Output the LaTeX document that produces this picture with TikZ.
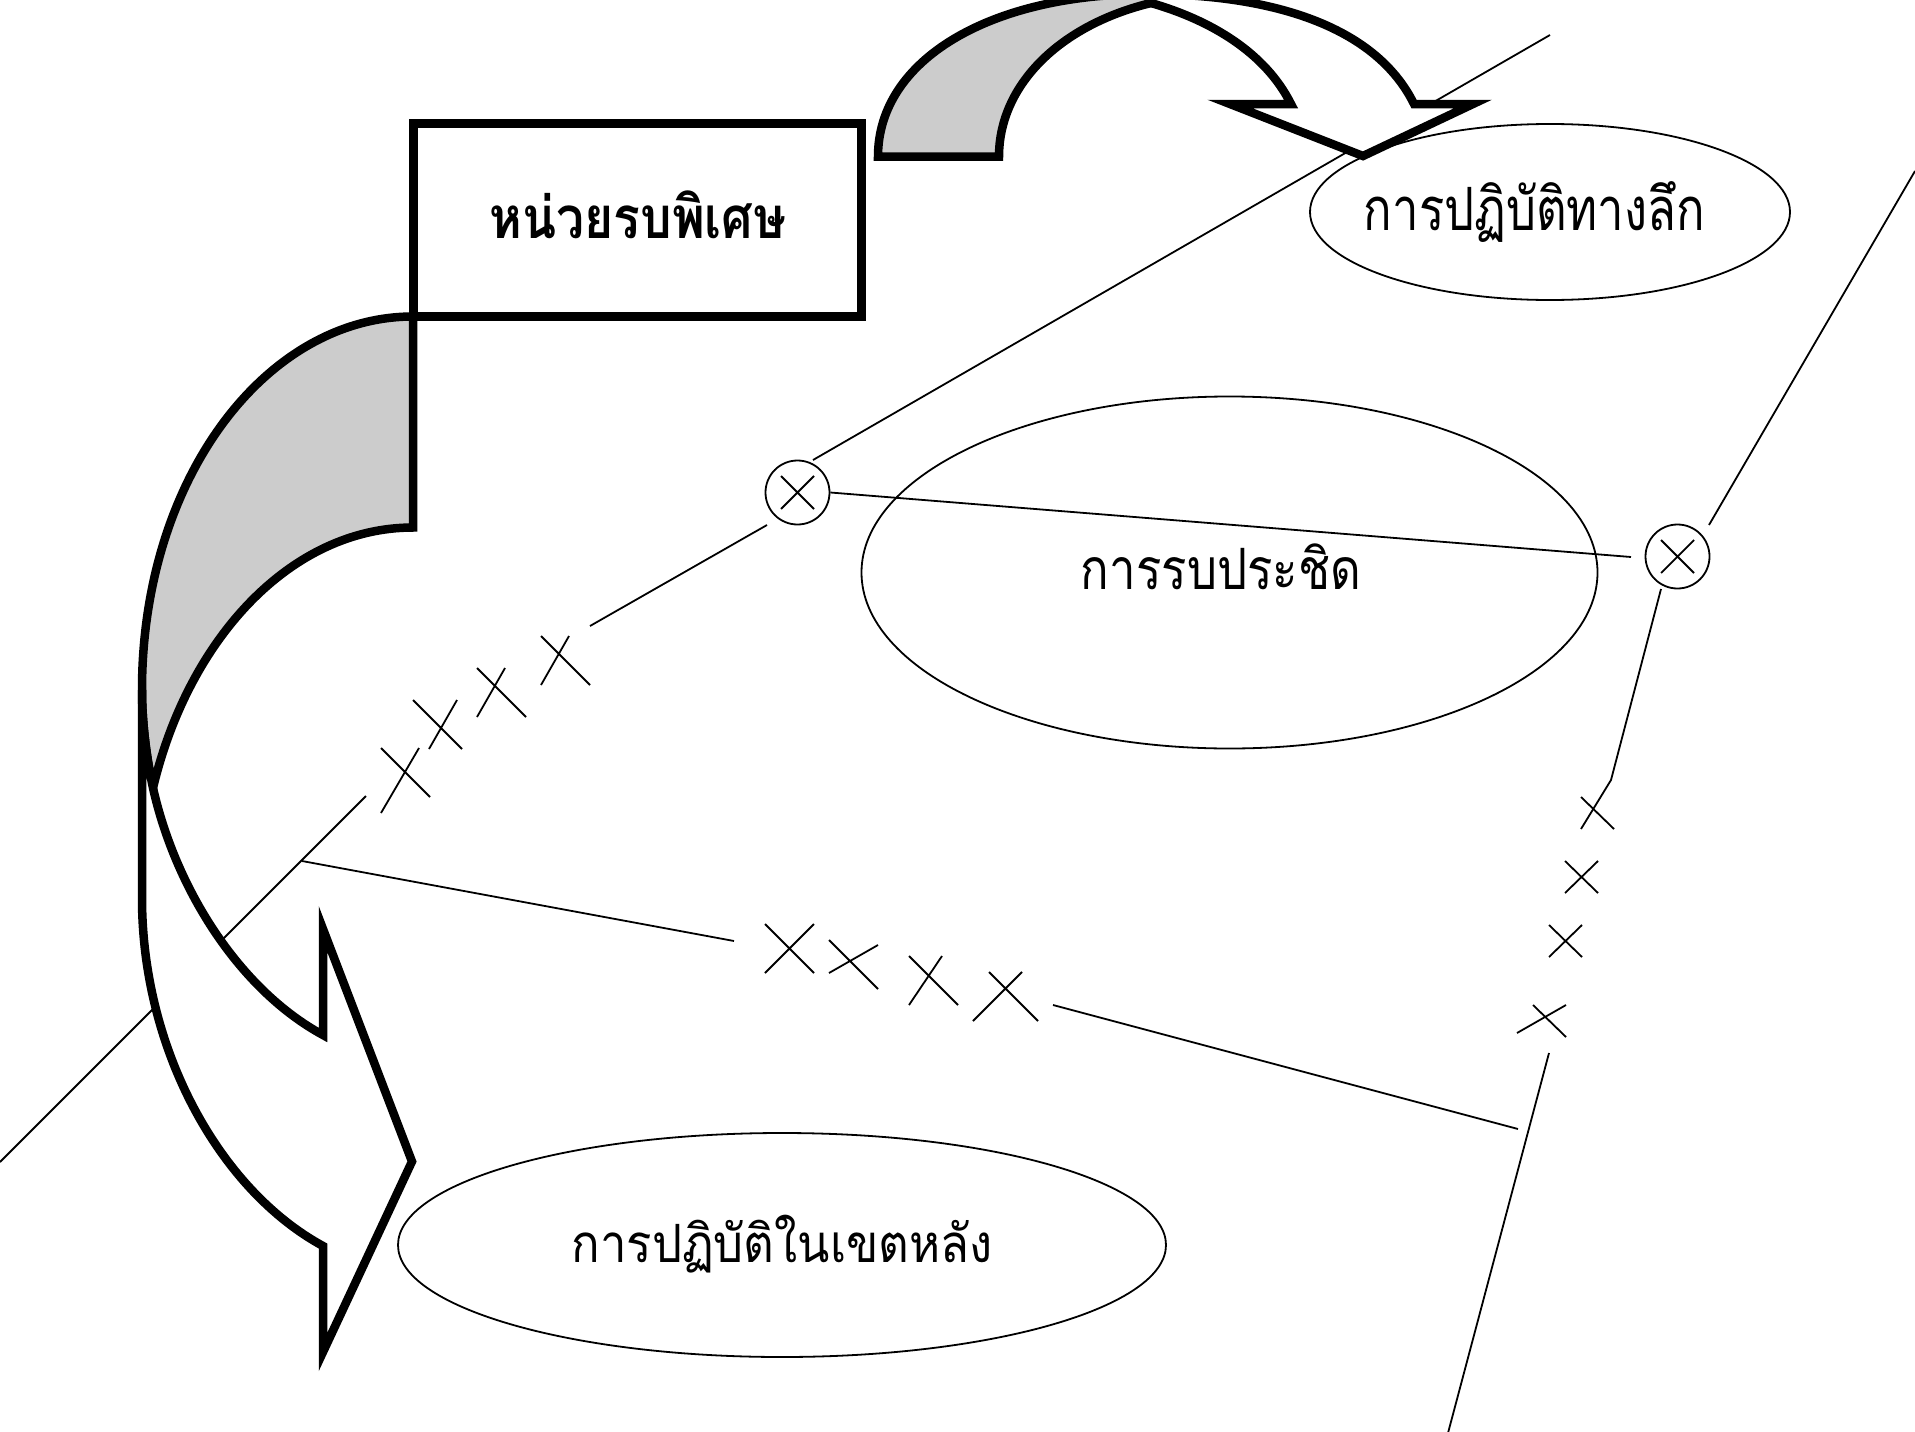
\documentclass[tikz,border=0pt]{standalone}
\usepackage{fontspec}
\usepackage{graphicx}
\setmainfont{Loma}[Script=Thai]
\usetikzlibrary{shapes.geometric}
\tikzset{
  thin line/.style={line width=1.8pt,draw=black},
  bubble/.style={ellipse,draw=black,line width=1.8pt,inner sep=0pt},
  junction/.style={circle,draw=black,line width=1.8pt,inner sep=0pt,minimum size=64pt},
  thick line/.style={line width=8.5pt,draw=black,miter limit=20},
  label text/.style={inner sep=0pt,text=black}
}
\newcommand{\fit}[3]{\resizebox*{#1pt}{#2pt}{#3}}
\begin{document}
\begin{tikzpicture}[x=1pt,y=-1pt]
\useasboundingbox (0,0) rectangle (1915,1432);
\fill[white] (0,0) rectangle (1915,1432);

% ellipses
\node[bubble,minimum width=480pt,minimum height=176pt] (deep) at (1550,212) {};
\node[bubble,minimum width=736pt,minimum height=352pt] (close) at (1229.5,572.5) {};
\node[bubble,minimum width=768pt,minimum height=224pt] (rear) at (782,1245) {};

% junctions
\node[junction] (lc) at (797.5,492.5) {};
\node[junction] (rc) at (1677.5,556.5) {};
\draw[thin line] (781,476)--(814,509) (814,476)--(781,509);
\draw[thin line] (1661,540)--(1694,573) (1694,540)--(1661,573);

% free ends
\coordinate (a0) at (0,1162);
\coordinate (a1) at (366,796);
\coordinate (a2) at (590,626);
\coordinate (a3) at (767,525);
\coordinate (a4) at (813,460);
\coordinate (a5) at (1550,35);
\coordinate (b0) at (302,861);
\coordinate (b1) at (734,941);
\coordinate (b2) at (1053,1005);
\coordinate (b3) at (1518,1129);
\coordinate (c0) at (1448,1433);
\coordinate (c1) at (1549,1053);
\coordinate (c2) at (1661,589);
\coordinate (c3) at (1611,780);
\coordinate (d0) at (1709,525);
\coordinate (d1) at (1915,171);
\coordinate (e1) at (1631,557);

% connectors
\draw[thin line] (a0)--(a1);
\draw[thin line] (a2)--(a3);
\draw[thin line] (a4)--(a5);
\draw[thin line] (b0)--(b1);
\draw[thin line] (b2)--(b3);
\draw[thin line] (c0)--(c1);
\draw[thin line] (c2)--(c3)--(1581,829);
\draw[thin line] (d0)--(d1);
\draw[thin line] (lc.east)--(e1);

% crosses, upper left line
\draw[thin line] (541,636)--(590,685) (569,636)--(541,685);
\draw[thin line] (477,668)--(526,717) (505,668)--(477,717);
\draw[thin line] (413,700)--(462,749) (457,700)--(429,749);
\draw[thin line] (381,748)--(430,797) (419,748)--(381,813);
% crosses, lower line
\draw[thin line] (765,924)--(814,973) (814,924)--(765,973);
\draw[thin line] (829,940)--(878,989) (878,945)--(829,973);
\draw[thin line] (909,956)--(958,1005) (942,956)--(909,1005);
\draw[thin line] (989,972)--(1038,1021) (1022,972)--(973,1021);
% crosses, right line
\draw[thin line] (1581,797)--(1614,829);
\draw[thin line] (1565,861)--(1598,893) (1598,861)--(1565,893);
\draw[thin line] (1549,925)--(1582,957) (1582,925)--(1549,957);
\draw[thin line] (1533,1005)--(1566,1037) (1566,1005)--(1517,1033);

% top curved arrow: front band
\draw[thick line,fill=white]
  (1151,3) .. controls (1210,20) and (1265,52) .. (1291,104)
  -- (1230,104) -- (1363,156) -- (1473,104) -- (1414,104)
  .. controls (1375,25) and (1270,-6) .. (1146,-6)
  .. controls (1148,-6) and (1150,0) .. (1151,3) -- cycle;
% top curved arrow: back band
\draw[thick line,fill=black!20]
  (878,156.5) .. controls (878,60) and (990,-6) .. (1146,-6)
  -- (1151,3)
  .. controls (1060,25) and (999,85) .. (999,156.5) -- cycle;

% left curved arrow: back band
\draw[thick line,fill=black!20]
  (413,316.5) .. controls (265,316.5) and (142,480) .. (142,690)
  .. controls (142,725) and (147,760) .. (153,788)
  .. controls (188,640) and (290,527.5) .. (413,527.5) -- cycle;
% left curved arrow: front band
\draw[thick line,fill=white]
  (142,690) -- (142,898)
  .. controls (142,1050) and (220,1190) .. (323,1246)
  -- (323,1352) -- (412,1161.5) -- (323,929) -- (323,1035)
  .. controls (240,990) and (176,890) .. (153,788)
  .. controls (147,760) and (142,725) .. (142,690) -- cycle;

% title box
\node[draw=black,fill=white,line width=8.5pt,inner sep=0pt,minimum width=448pt,minimum height=193pt] (box) at (637.5,220) {};

% texts
\node[label text] (tbox) at (638,215) {\fit{297}{48}{\bfseries หน่วยรบพิเศษ}};
\node[label text] (tdeep) at (1534.5,212) {\fit{341}{61}{การปฏิบัติทางลึก}};
\node[label text] (tclose) at (1221,567) {\fit{280}{46}{การรบประชิด}};
\node[label text] (trear) at (782,1244) {\fit{421}{58}{การปฏิบัติในเขตหลัง}};
\end{tikzpicture}
\end{document}
